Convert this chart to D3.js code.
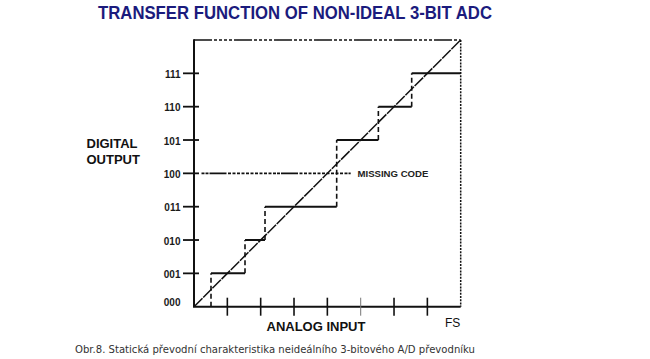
<!DOCTYPE html>
<html><head><meta charset="utf-8">
<script src="https://cdn.jsdelivr.net/npm/d3@7"></script>
<style>html,body{margin:0;padding:0;background:#fff;}svg{display:block;}</style>
</head><body>
<svg id="c" width="650" height="359"></svg>
<script>
const title = "TRANSFER FUNCTION OF NON-IDEAL 3-BIT ADC";
const caption = "Obr.8. Statická převodní charakteristika neideálního 3-bitového A/D převodníku";
const codes = ["000","001","010","011","100","101","110","111"];
const xTicks = [1,2,3,4,5,6,7];
const stepLevels = [0,1,2,3,5,6,7];
const stepStarts = [0,0.51,1.53,2.13,4.28,5.53,6.53];
const stepEnds = [0.51,1.53,2.13,4.28,5.53,6.53,8];
const missingLevel = 4;
const missingLabel = "MISSING CODE";
const yTitle = ["DIGITAL","OUTPUT"];
const xTitle = "ANALOG INPUT";
const fsLabel = "FS";

const svg = d3.select("#c");
const x = d3.scaleLinear().domain([0,8]).range([194,460.7]);
const y = d3.scaleLinear().domain([0,8]).range([306.7,40]);
const ink = "#111";

// title
svg.append("text").attr("x",98).attr("y",19).attr("font-family","Liberation Sans, Arial, sans-serif")
  .attr("font-weight","bold").attr("font-size",19).attr("fill","#1b1b7d")
  .attr("textLength",394).attr("lengthAdjust","spacingAndGlyphs").text(title);

// frame: top dash-dot, right dotted
svg.append("line").attr("x1",x(0)).attr("x2",x(8)).attr("y1",y(8)).attr("y2",y(8))
  .attr("stroke",ink).attr("stroke-width",1.5).attr("stroke-dasharray","18,2,3,2,3,2,3,2,3,2");
svg.append("line").attr("x1",x(8)).attr("x2",x(8)).attr("y1",y(8)).attr("y2",y(0))
  .attr("stroke",ink).attr("stroke-width",1.5).attr("stroke-dasharray","2,1.2");

// missing code line
svg.append("line").attr("x1",x(0)+7.5).attr("x2",x(4.7)).attr("y1",y(missingLevel)).attr("y2",y(missingLevel))
  .attr("stroke",ink).attr("stroke-width",1.6).attr("stroke-dasharray","3,1,3,1,17,1.5,3,1.5,3,1.5,3,1.5,3,1.5,3,1.5,3,1.5,3,1.5,3,1.5,3,1.5,3,1.5");
svg.append("text").attr("x",357.5).attr("y",y(missingLevel)+3.5).attr("font-family","Liberation Sans, Arial, sans-serif")
  .attr("font-weight","bold").attr("font-size",9.6).attr("fill","#222").text(missingLabel);

// diagonal
svg.append("line").attr("x1",x(0)).attr("y1",y(0)).attr("x2",x(8)).attr("y2",y(8))
  .attr("stroke",ink).attr("stroke-width",1.5).attr("stroke-dasharray","12,1");

// risers (dashed)
const risers = stepLevels.slice(1).map((lv,i)=>({x:stepStarts[i+1], y0:stepLevels[i], y1:lv}));
svg.selectAll("line.riser").data(risers).enter().append("line").attr("class","riser")
  .attr("x1",d=>x(d.x)).attr("x2",d=>x(d.x)).attr("y1",d=>y(d.y0)).attr("y2",d=>y(d.y1))
  .attr("stroke",ink).attr("stroke-width",1.6).attr("stroke-dasharray","5,3");

// treads (solid)
svg.selectAll("line.tread").data(stepLevels.map((lv,i)=>({lv,s:stepStarts[i],e:stepEnds[i]})).filter(d=>d.lv>0))
  .enter().append("line").attr("class","tread")
  .attr("x1",d=>x(d.s)).attr("x2",d=>x(d.e)).attr("y1",d=>y(d.lv)).attr("y2",d=>y(d.lv))
  .attr("stroke",ink).attr("stroke-width",2);

// axes
svg.append("line").attr("x1",x(0)).attr("x2",x(0)).attr("y1",y(8)-0.7).attr("y2",y(0)).attr("stroke",ink).attr("stroke-width",2);
svg.append("line").attr("x1",x(0)-1).attr("x2",x(8)).attr("y1",y(0)).attr("y2",y(0)).attr("stroke",ink).attr("stroke-width",2);

// y ticks
svg.selectAll("line.yt").data(d3.range(1,8)).enter().append("line").attr("class","yt")
  .attr("x1",x(0)-11).attr("x2",x(0)+5).attr("y1",d=>y(d)).attr("y2",d=>y(d)).attr("stroke",ink).attr("stroke-width",1.8);
svg.selectAll("text.yl").data(codes).enter().append("text").attr("class","yl")
  .attr("x",x(0)-13.5).attr("y",(d,i)=>i===0?y(i)-0.5:y(i)+4.5).attr("text-anchor","end")
  .attr("font-family","Liberation Sans, Arial, sans-serif").attr("font-weight","bold").attr("font-size",10).attr("fill","#1a1a1a").text(d=>d);

// x ticks
svg.selectAll("line.xt").data(xTicks).enter().append("line").attr("class","xt")
  .attr("x1",d=>x(d)).attr("x2",d=>x(d)).attr("y1",y(0)-9).attr("y2",y(0)+9)
  .attr("stroke",d=>d===5?"#777":ink).attr("stroke-width",d=>d===5?1:1.6);

// axis titles
svg.selectAll("text.yt2").data(yTitle).enter().append("text").attr("class","yt2")
  .attr("x",86.5).attr("y",(d,i)=>148+i*15.5).attr("font-family","Liberation Sans, Arial, sans-serif")
  .attr("font-weight","bold").attr("font-size",13).attr("fill","#111").text(d=>d);
svg.append("text").attr("x",266.5).attr("y",331).attr("font-family","Liberation Sans, Arial, sans-serif")
  .attr("font-weight","bold").attr("font-size",13).attr("fill","#111").text(xTitle);
svg.append("text").attr("x",445).attr("y",326.5).attr("font-family","Liberation Sans, Arial, sans-serif")
  .attr("font-size",12).attr("fill","#111").text(fsLabel);

// caption
svg.append("text").attr("x",75).attr("y",352.5).attr("font-family","DejaVu Sans, Verdana, sans-serif")
  .attr("font-size",10.5).attr("fill","#333").attr("textLength",400).attr("lengthAdjust","spacingAndGlyphs").text(caption);
</script>
</body></html>
